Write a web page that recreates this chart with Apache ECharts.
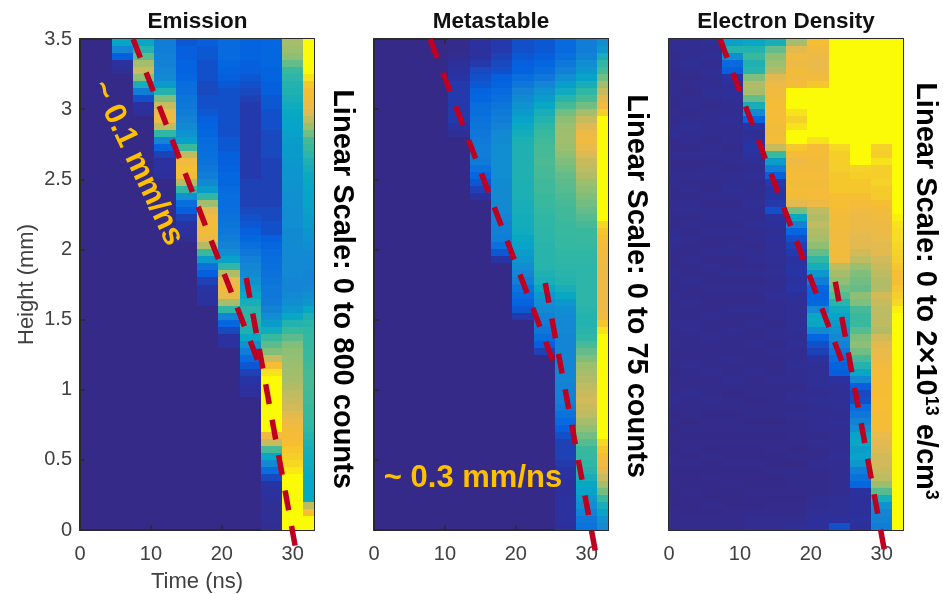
<!DOCTYPE html>
<html><head><meta charset="utf-8">
<style>html,body{margin:0;padding:0;background:#fff}#c{width:943px;height:594px}</style>
<script src="https://cdn.jsdelivr.net/npm/echarts@6/dist/echarts.min.js"></script>
</head><body><div id="c"></div>
<script>
// Values on a 0-100 colour scale. Each column lists rows from the top (3.5 mm) downward in 0.05 mm steps.
// A column that stops early is at zero below its last listed row.
const emT6=[37,25,12,5,3];
const emT9=[38,45,55,66,72,62,42,22,10,5,4];
const emT12=[22,22,23,24,25,27,33,45,60,72,82,83,70,48,25,13,8,5,5,4];
const emT15=[11,12,12,13,13,14,16,17,19,20,22,24,26,30,35,50,70,84,88,85,68,48,30,16,12,8,6,5,3];
const emT18=[12,11,11,10,10,10,9,9,10,10,11,12,13,14,15,16,17,18,20,22,26,33,48,65,78,84,86,85,82,68,50,33,18,12,8,6,5,5];
const emT21=[15,15,15,14,13,12,11,10,10,10,10,10,10,10,11,11,12,12,13,14,14,15,16,16,17,18,19,20,22,24,28,35,48,68,80,84,80,66,48,25,14,9,5,5];
const emT24=[13,13,13,12,12,11,10,9,8,7,7,7,7,7,7,7,7,7,7,7,8,8,8,8,9,10,11,12,14,17,20,23,25,27,30,34,38,42,46,47,46,44,38,30,22,15,11,8,6,5,4];
const emT27=[14,14,14,14,13,13,12,12,11,11,10,10,10,9,9,9,9,8,8,8,8,8,8,8,9,9,10,10,12,14,15,16,17,18,19,20,20,21,24,28,33,40,50,55,60,72,88,96,100,100,100,100,100,100,100,100,84,72,52,38,26,16,9,6,5,4,3,3,3,2];
const emT30=[66,64,62,56,50,47,45,44,42,40,38,37,36,35,34,33,33,32,31,31,30,30,29,29,28,28,28,27,27,27,26,26,26,26,25,25,26,28,32,38,45,50,55,60,62,63,64,65,66,68,70,72,74,78,82,85,86,88,90,92,94,97,100,100,100,100,100,100,100,100];
const emT33=[100,100,100,100,100,96,90,87,85,82,76,70,64,58,52,50,47,44,41,39,38,37,36,36,35,34,33,31,30,28,27,26,26,25,25,26,28,32,38,44,46,48,49,49,50,50,51,52,52,52,51,51,50,50,49,48,46,44,42,41,40,39,38,38,38,38,70,88,100,100];

const meT12=[1,1,2,4,5,6,7,7,7,7,7,7,6,3];
const meT15=[5,5,5,7,9,10,11,13,14,16,17,18,19,20,21,22,22,21,18,14,11,8,5];
const meT18=[7,7,8,9,10,12,13,15,17,19,21,22,24,26,27,28,28,28,28,28,27,27,27,26,26,25,24,23,22,18,11,6];
const meT21=[10,10,11,12,13,16,20,24,27,30,33,36,39,41,43,44,44,44,44,44,43,43,43,42,42,41,41,40,38,36,34,31,28,25,22,18,15,13,11,7];
const meT24=[11,11,12,14,16,20,25,30,34,38,42,45,48,50,51,52,52,53,52,52,51,51,50,50,49,48,48,47,47,46,46,46,46,44,42,38,32,28,26,24,22,20,16,12,8];
const meT27=[15,15,17,20,23,28,34,40,46,52,58,62,64,65,65,64,62,60,58,56,55,54,53,52,51,51,50,50,49,49,48,48,47,46,45,42,38,32,28,26,26,26,25,25,25,25,25,25,25,24,24,23,21,18,15,12,10,8,8,8,7,6,5,4,4,5,5,5,5,4];
const meT30=[22,22,24,28,32,36,42,48,52,58,66,72,77,82,84,80,76,72,70,68,64,62,60,58,56,54,52,50,50,49,48,48,47,47,47,47,47,47,46,45,45,46,48,52,56,60,64,66,68,70,72,74,72,70,66,62,58,54,50,49,48,46,42,38,36,32,28,24,20,18];
const meT33=[28,32,42,48,52,58,65,72,78,84,92,100,100,100,100,100,100,100,100,100,100,100,100,100,100,100,94,90,88,86,84,83,82,82,82,82,82,82,82,84,90,96,100,100,100,100,100,100,100,100,100,100,100,100,100,100,100,94,90,86,84,78,72,66,58,50,42,36,30,26];

const edT0=[2,2,1,2,1,1,2,2,1,1,2,1,2,3,1,1,2,1,1,2,2,1,1,2,2,1,1,2,3,2,1,1,1,2,1,1,2,1,1,1,2,1,1,2,1,1,1,0,1,1,1,2,1,0,1,0,1,0,0,1,1,0,0,1,0,0,0,1,1,1];
const edT3=[2,2,2,3,2,1,2,1,2,2,1,2,3,2,2,1,2,1,1,2,1,2,1,2,2,1,2,1,2,1,1,2,1,1,2,1,1,2,1,1,2,2,1,1,1,1,2,1,1,1,2,1,1,1,0,1,0,1,1,0,1,0,0,0,1,0,0,0,1,1];
const edT6=[3,2,3,2,3,2,2,3,2,1,2,2,2,2,1,2,2,1,2,2,1,1,2,1,2,2,1,2,1,1,2,1,2,1,1,2,1,1,1,2,1,1,2,1,1,1,1,2,1,1,1,2,1,0,1,1,0,1,0,1,0,0,1,0,0,0,1,0,1,1];
const edT9=[35,45,28,15,12,6,3,4,3,2,2,3,2,2,2,1,2,2,1,2,2,3,2,1,2,2,1,2,1,2,2,1,1,2,1,2,1,1,2,1,1,2,1,1,1,2,1,1,2,1,0,1,1,0,1,1,0,1,0,0,1,0,0,1,0,0,0,1,1,1];
const edT12=[38,45,50,44,46,60,68,66,56,42,26,13,6,3,5,6,5,3,2,3,2,2,2,3,2,2,3,2,2,1,2,2,1,2,1,2,1,1,2,1,2,1,1,2,1,1,1,2,1,1,1,0,1,1,0,1,0,1,0,0,1,0,0,0,1,0,0,1,2,2];
const edT15=[42,56,62,64,68,78,82,84,85,87,86,87,85,85,86,72,50,34,22,12,7,6,6,7,10,5,4,3,4,3,3,3,2,3,2,2,3,2,2,2,1,2,2,1,2,1,1,1,2,1,1,1,1,1,0,1,0,1,1,0,0,1,0,0,1,0,1,1,2,2];
const edT18=[66,78,84,82,85,84,86,100,100,100,96,93,96,100,100,90,86,82,85,86,85,86,85,78,58,38,24,14,10,8,7,5,6,6,5,6,4,3,3,3,3,3,2,3,2,2,3,2,2,1,2,2,1,2,1,1,1,1,0,1,0,1,1,1,1,0,1,1,2,3];
const edT21=[88,84,82,80,82,84,90,100,100,100,100,100,100,100,96,86,86,85,84,86,85,86,86,82,70,68,70,68,66,62,56,48,42,32,22,14,13,14,26,38,38,26,14,10,8,5,3,3,3,3,2,3,2,2,2,2,1,2,1,1,2,1,1,1,1,2,2,3,4,4];
const edT24=[100,100,100,100,100,100,100,100,100,100,100,100,100,100,100,94,92,92,92,90,90,90,88,88,86,85,85,84,84,84,85,84,70,66,62,58,54,46,40,36,33,30,26,24,20,16,13,12,5,3,3,3,3,2,3,2,2,2,2,3,2,2,2,2,2,3,3,3,4,10];
const edT27=[100,100,100,100,100,100,100,100,100,100,100,100,100,100,100,100,100,100,93,92,90,90,88,86,84,82,82,80,78,78,74,70,64,60,58,56,62,60,52,50,50,54,60,62,58,52,45,38,26,12,9,10,16,20,24,28,36,38,34,36,32,22,18,14,5,4,4,4,5,4];
const edT30=[100,100,100,100,100,100,100,100,100,100,100,100,100,100,100,93,92,96,92,92,93,91,91,88,85,84,82,82,80,78,78,74,72,70,68,68,74,72,70,70,70,68,74,78,80,82,84,86,86,87,87,88,88,87,87,86,80,78,76,74,74,72,70,64,54,42,30,25,24,22];
const edT33=[100,100,100,100,100,100,100,100,100,100,100,100,100,100,100,100,100,100,100,100,100,100,100,100,100,98,96,95,95,94,93,92,90,88,88,90,92,94,98,100,100,100,100,100,100,100,100,100,100,100,100,100,100,100,100,100,100,100,100,100,100,100,100,100,100,100,100,100,100,100];

const emissionColumns=[[6,emT6],[9,emT9],[12,emT12],[15,emT15],[18,emT18],[21,emT21],[24,emT24],[27,emT27],[30,emT30],[33,emT33]];
const metastableColumns=[[12,meT12],[15,meT15],[18,meT18],[21,meT21],[24,meT24],[27,meT27],[30,meT30],[33,meT33]];
const electronColumns=[[0,edT0],[3,edT3],[6,edT6],[9,edT9],[12,edT12],[15,edT15],[18,edT18],[21,edT21],[24,edT24],[27,edT27],[30,edT30],[33,edT33]];

// Dashed guide lines: [time ns, height mm] endpoints.
const emissionFast=[[7.49,3.5],[25.7,1.126]];
const emissionSlow=[[23.45,1.796],[30.5,-0.157]];
const metastableFast=[[7.9,3.5],[26.0,1.105]];
const metastableSlow=[[24.15,1.76],[31.36,-0.19]];
const electronFast=[[7.2,3.5],[25.0,1.12]];
const electronSlow=[[23.45,1.77],[30.5,-0.18]];

const xTicks=[0,10,20,30];
const panelTitles=['Emission','Metastable','Electron Density'];
const parula=['#352a87','#2834a5','#0363e1','#0c74da','#1485d4','#0d96cd','#06a7c6','#1fb0b2','#38b99e','#65bc88','#92bf73','#b6bc64','#d9ba56','#ecbb48','#f6bc33','#f5d525','#fbfb08'];

const BIN=3, ROW=0.05;
function cells(cols){const out=[];cols.forEach(([t,vals])=>vals.forEach((v,i)=>out.push([t,3.5-ROW*(i+0.5),v])));return out;}
function renderCell(params,api){
  const t=api.value(0),h=api.value(1);
  const a=api.coord([t-BIN/2,h+ROW/2]),b=api.coord([t+BIN/2,h-ROW/2]);
  const r=echarts.graphic.clipRectByRect({x:Math.round(a[0]),y:Math.round(a[1]),width:Math.round(b[0])-Math.round(a[0]),height:Math.round(b[1])-Math.round(a[1])},
    {x:params.coordSys.x,y:params.coordSys.y,width:params.coordSys.width,height:params.coordSys.height});
  return r&&{type:'rect',shape:r,style:{fill:api.visual('color')}};
}
const lefts=[80,374,669], W=234, TOP=39, H=491, INK='#404040', FONT='"Liberation Sans",Arial,sans-serif';
const grids=[],xAxes=[],yAxes=[],series=[];
const lineAxis={show:true,onZero:false,lineStyle:{color:'#2b2b2b',width:2}};
const tick={show:true,inside:true,length:5,lineStyle:{color:'#2b2b2b',width:1.5}};
lefts.forEach((l,p)=>{
  grids.push({left:l,top:TOP,width:W,height:H,show:true,backgroundColor:parula[0],borderWidth:0,z:0,outerBoundsMode:'none'});
  const base=2*p, gi=p;
  xAxes.push({gridIndex:gi,type:'value',min:0,max:33,interval:10,position:'bottom',axisLine:lineAxis,
    axisTick:Object.assign({customValues:xTicks},tick),splitLine:{show:false},
    axisLabel:{customValues:xTicks,color:INK,fontSize:20,fontFamily:FONT,margin:14},
    name:p===0?'Time (ns)':'',nameLocation:'middle',nameGap:41,nameTextStyle:{color:INK,fontSize:22,fontFamily:FONT}});
  xAxes.push({gridIndex:gi,type:'value',min:0,max:33,interval:10,position:'top',axisLine:lineAxis,
    axisTick:Object.assign({customValues:xTicks},tick),splitLine:{show:false},axisLabel:{show:false}});
  yAxes.push({gridIndex:gi,type:'value',min:0,max:3.5,interval:0.5,position:'left',axisLine:lineAxis,axisTick:tick,splitLine:{show:false},
    axisLabel:{show:p===0,color:INK,fontSize:20,fontFamily:FONT,margin:8},
    name:p===0?'Height (mm)':'',nameLocation:'middle',nameGap:42,nameTextStyle:{color:INK,fontSize:22,fontFamily:FONT}});
  yAxes.push({gridIndex:gi,type:'value',min:0,max:3.5,interval:0.5,position:'right',axisLine:lineAxis,axisTick:tick,splitLine:{show:false},axisLabel:{show:false}});
  const cols=[emissionColumns,metastableColumns,electronColumns][p];
  series.push({type:'custom',name:panelTitles[p],xAxisIndex:base,yAxisIndex:base,renderItem:renderCell,encode:{x:0,y:1},data:cells(cols),silent:true,z:1});
  const guides=[[emissionFast,emissionSlow],[metastableFast,metastableSlow],[electronFast,electronSlow]][p];
  guides.forEach(g=>series.push({type:'line',xAxisIndex:base,yAxisIndex:base,data:g,showSymbol:false,symbol:'none',clip:false,silent:true,z:5,
    lineStyle:{color:'#c00020',width:5.5,type:[20,16],cap:'butt'}}));
});
const sideText=(x,y,text,rich)=>({type:'text',x,y,rotation:-Math.PI/2,z:20,style:{text,font:'bold 29px '+FONT,fill:'#000',align:'center',verticalAlign:'middle',rich}});
const gold=(x,y,rot,text)=>({type:'text',x,y,rotation:rot,z:20,style:{text,font:'bold 31px '+FONT,fill:'#ffc000',align:'center',verticalAlign:'middle'}});
const chart=echarts.init(document.getElementById('c'),null,{renderer:'canvas'});
chart.setOption({
  animation:false,backgroundColor:'#fff',
  title:panelTitles.map((t,i)=>({text:t,left:[192.5,486,781][i],top:5,textAlign:'center',textStyle:{color:'#111',fontSize:22.5,fontWeight:'bold',fontFamily:FONT}})),
  grid:grids,xAxis:xAxes,yAxis:yAxes,series,
  visualMap:{show:false,type:'continuous',min:0,max:100,dimension:2,seriesIndex:[0,3,6],inRange:{color:parula}},
  graphic:[
    sideText(342,289,'Linear Scale: 0 to 800 counts'),
    sideText(636,286,'Linear Scale: 0 to 75 counts'),
    sideText(925,291,'{b|Linear Scale: 0 to 2×10}{s|13}{b| e/cm}{s|3}',{
      b:{font:'bold 29px '+FONT,fill:'#000',verticalAlign:'bottom',lineHeight:29},
      s:{font:'bold 18px '+FONT,fill:'#000',verticalAlign:'top',lineHeight:18}}),
    gold(137,163,-64.7*Math.PI/180,'~ 0.1 mm/ns'),
    gold(473,478,0,'~ 0.3 mm/ns')
  ]
});
</script></body></html>
